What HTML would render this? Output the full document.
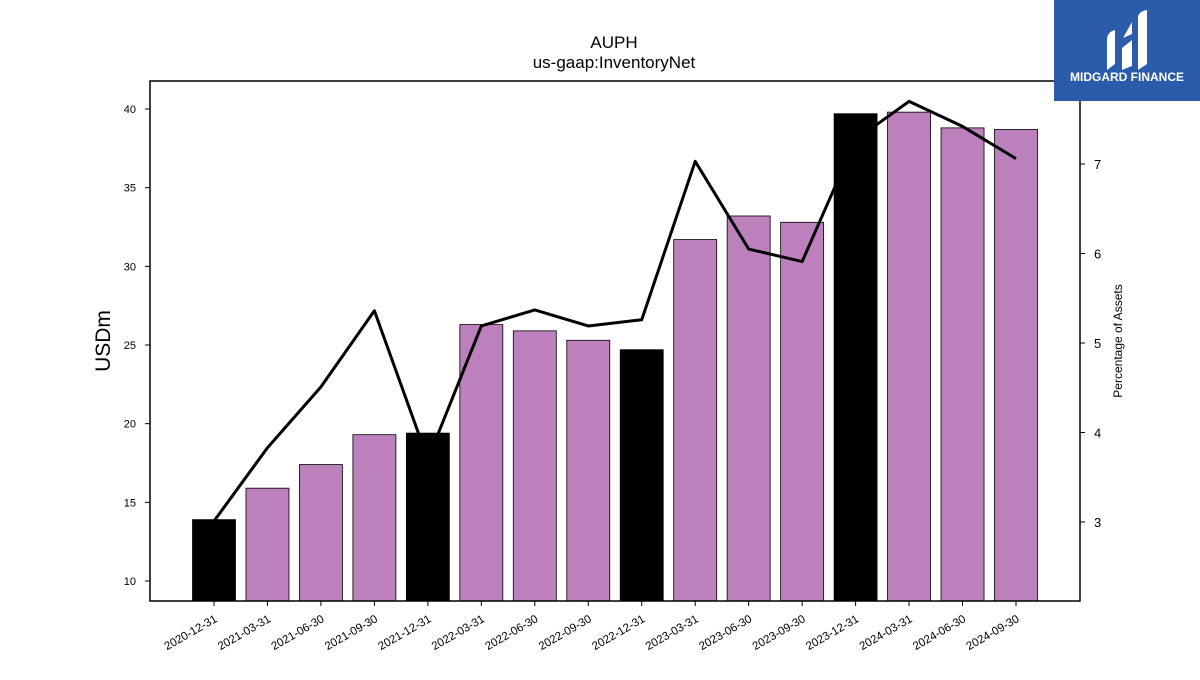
<!DOCTYPE html>
<html><head><meta charset="utf-8"><style>
body{margin:0;background:#fff;font-family:"Liberation Sans","DejaVu Sans",sans-serif}
</style></head><body>
<svg id="c" width="1200" height="675" xmlns="http://www.w3.org/2000/svg">
<rect width="1200" height="675" fill="#fff"/>
<text x="614" y="48" text-anchor="middle" font-size="17">AUPH</text>
<text x="614" y="68" text-anchor="middle" font-size="17">us-gaap:InventoryNet</text>
<g id="bars"></g><g id="line"></g><g id="axes"></g>
<text transform="translate(110,341) rotate(-90)" text-anchor="middle" font-size="21">USDm</text>
<text transform="translate(1122,341) rotate(-90)" text-anchor="middle" font-size="12">Percentage of Assets</text>
<g>
<rect x="1054" y="0" width="146" height="101" fill="#2b5bab"/>
<path d="M1107 70 V40 Q1107 32 1115 30 V64 Z M1122 70 V48 L1132 40 V66 Z M1123 38 L1132 22 V34 Z M1138 70 V16 Q1140 11 1147 10 V64 Z" fill="#fff"/>
<text x="1127" y="81" text-anchor="middle" font-size="12" font-weight="bold" fill="#fff">MIDGARD FINANCE</text>
</g>
</svg>
<script>
const categories=["2020-12-31","2021-03-31","2021-06-30","2021-09-30","2021-12-31","2022-03-31","2022-06-30","2022-09-30","2022-12-31","2023-03-31","2023-06-30","2023-09-30","2023-12-31","2024-03-31","2024-06-30","2024-09-30"];
const inventory=[13.9,15.9,17.4,19.3,19.4,26.3,25.9,25.3,24.7,31.7,33.2,32.8,39.7,39.8,38.8,38.7];
const pctAssets=[3.01,3.83,4.51,5.36,3.7,5.19,5.37,5.19,5.26,7.03,6.05,5.91,7.27,7.7,7.42,7.06];
const yTicks=[10,15,20,25,30,35,40];
const rTicks=[3,4,5,6,7];
const annual=[0,4,8,12];
const NS="http://www.w3.org/2000/svg";
const L=150,R=1080,T=81,B=601;
const x=i=>214+i*(1016-214)/15;
const y=v=>581-(v-10)*(472/30);
const yr=v=>522-(v-3)*(358/4);
function mk(tag,a,p){const e=document.createElementNS(NS,tag);for(const k in a)e.setAttribute(k,a[k]);p.appendChild(e);return e;}
const bars=document.getElementById('bars'),line=document.getElementById('line'),axes=document.getElementById('axes');
inventory.forEach((v,i)=>{
 const r=mk('rect',{x:x(i)-21.5,y:y(v),width:43,height:B-y(v),fill:annual.includes(i)?'#000':'#bc80bd',stroke:'#000','stroke-width':0.8},bars);
 
 
});
const pl=mk('polyline',{points:pctAssets.map((v,i)=>x(i)+','+yr(v)).join(' '),fill:'none',stroke:'#000','stroke-width':3,'stroke-linejoin':'round'},line);


const fr=mk('rect',{x:L,y:T,width:R-L,height:B-T,fill:'none',stroke:'#000','stroke-width':1.5},axes);


yTicks.forEach(v=>{
 mk('line',{x1:L-5,x2:L,y1:y(v),y2:y(v),stroke:'#000'},axes);
 const t=mk('text',{x:L-14,y:y(v)+4,'text-anchor':'end','font-size':11},axes);t.textContent=v;
 
 
});
rTicks.forEach(v=>{
 mk('line',{x1:R,x2:R+5,y1:yr(v),y2:yr(v),stroke:'#000'},axes);
 const t=mk('text',{x:R+14,y:yr(v)+5,'font-size':13},axes);t.textContent=v;
 
 
});
categories.forEach((c,i)=>{
 mk('line',{x1:x(i),x2:x(i),y1:B,y2:B+5,stroke:'#000'},axes);
 const t=mk('text',{transform:`translate(${x(i)+4},${B+20}) rotate(-30)`,'text-anchor':'end','font-size':11.5},axes);t.textContent=c;
 
 
});
</script>
</body></html>
